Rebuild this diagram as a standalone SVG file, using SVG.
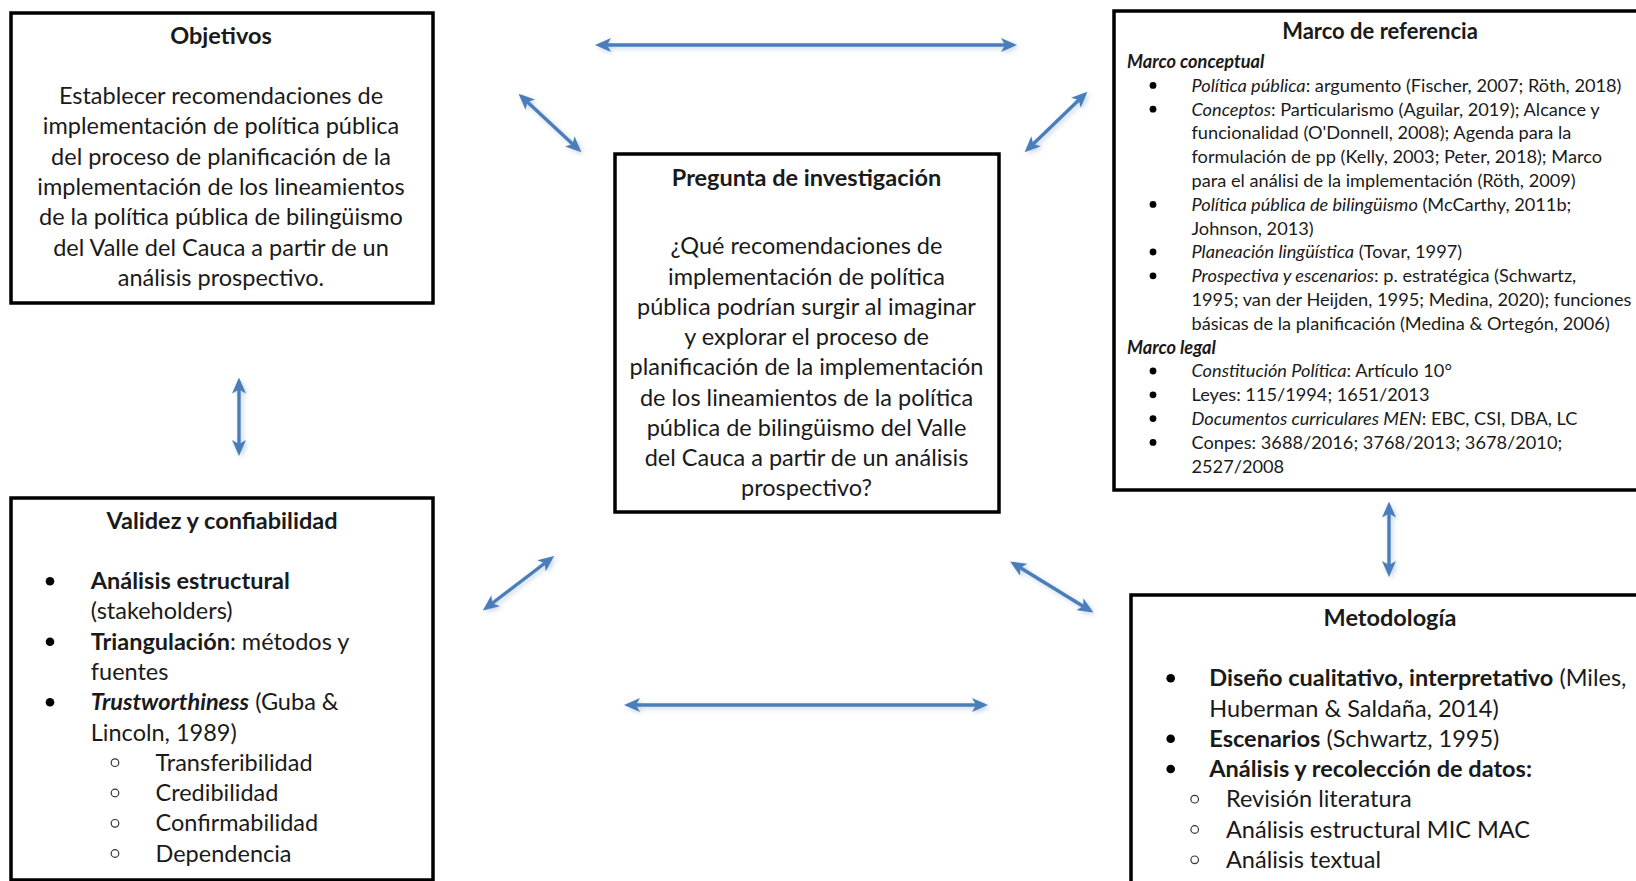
<svg xmlns="http://www.w3.org/2000/svg" width="1636" height="881" viewBox="0 0 1636 881">
  <defs>
    <style>
      text { font-family: Lato, "Liberation Sans", sans-serif; fill: #1a1a1a; }
      .box { fill: #ffffff; stroke: #000000; stroke-width: 3.5; }
      .title { font-weight: bold; font-size: 23.5px; text-anchor: middle; }
      .body { font-size: 23.5px; text-anchor: middle; }
      .list { font-size: 23.5px; }
      .ref { font-size: 18.2px; }
      .i { font-style: italic; }
      .b { font-weight: bold; }
      .dot { fill: #000000; }
      .ring { fill: none; stroke: #333333; stroke-width: 1.2; }
      .arrow { stroke: #4a7ebb; stroke-width: 3.4; fill: none; marker-start: url(#ah); marker-end: url(#ah); filter: url(#soft); }
    </style>
    <marker id="ah" viewBox="0 0 16 14" refX="12" refY="7" markerWidth="16" markerHeight="14" markerUnits="userSpaceOnUse" orient="auto-start-reverse">
      <path d="M0,0 L16,7 L0,14 L4,7 z" fill="#4a7ebb"/>
    </marker>
    <!-- soft bluish shadow under the arrows -->
    <filter id="soft" filterUnits="userSpaceOnUse" x="0" y="0" width="1636" height="881">
      <feGaussianBlur in="SourceAlpha" stdDeviation="2.5" result="b"/>
      <feOffset in="b" dx="1.5" dy="2" result="o"/>
      <feFlood flood-color="#7f9fc8" flood-opacity="0.45"/>
      <feComposite in2="o" operator="in" result="s"/>
      <feMerge><feMergeNode in="s"/><feMergeNode in="SourceGraphic"/></feMerge>
    </filter>
  </defs>

  <rect width="1636" height="881" fill="#ffffff"/>

  <!-- connectors -->
  <g id="connectors">
    <line class="arrow" x1="599" y1="45" x2="1013" y2="45"/>
    <line class="arrow" x1="521.5" y1="96.5" x2="578.5" y2="149.5"/>
    <line class="arrow" x1="1084.5" y1="94.5" x2="1027.5" y2="149.5"/>
    <line class="arrow" x1="239" y1="381.5" x2="239" y2="452"/>
    <line class="arrow" x1="1389" y1="505.5" x2="1389" y2="573"/>
    <line class="arrow" x1="551" y1="558.5" x2="486" y2="608"/>
    <line class="arrow" x1="1013.5" y1="563.5" x2="1090" y2="610.5"/>
    <line class="arrow" x1="628" y1="705" x2="984" y2="705"/>
  </g>

  <!-- Objetivos -->
  <g id="objetivos">
    <rect class="box" x="11" y="13" width="422" height="290"/>
    <text class="title" x="221" y="44">Objetivos</text>
    <text class="body" x="221" y="104">Establecer recomendaciones de</text>
    <text class="body" x="221" y="134.3">implementación de política pública</text>
    <text class="body" x="221" y="164.6">del proceso de planificación de la</text>
    <text class="body" x="221" y="194.9">implementación de los lineamientos</text>
    <text class="body" x="221" y="225.2">de la política pública de bilingüismo</text>
    <text class="body" x="221" y="255.5">del Valle del Cauca a partir de un</text>
    <text class="body" x="221" y="285.8">análisis prospectivo.</text>
  </g>

  <!-- Pregunta de investigación -->
  <g id="pregunta">
    <rect class="box" x="615" y="154" width="384" height="358"/>
    <text class="title" x="806.5" y="185.5">Pregunta de investigación</text>
    <text class="body" x="806.5" y="254.2">¿Qué recomendaciones de</text>
    <text class="body" x="806.5" y="284.5">implementación de política</text>
    <text class="body" x="806.5" y="314.8">pública podrían surgir al imaginar</text>
    <text class="body" x="806.5" y="345">y explorar el proceso de</text>
    <text class="body" x="806.5" y="375.3">planificación de la implementación</text>
    <text class="body" x="806.5" y="405.5">de los lineamientos de la política</text>
    <text class="body" x="806.5" y="435.8">pública de bilingüismo del Valle</text>
    <text class="body" x="806.5" y="466">del Cauca a partir de un análisis</text>
    <text class="body" x="806.5" y="496.3">prospectivo?</text>
  </g>

  <!-- Marco de referencia -->
  <g id="marco-referencia">
    <rect class="box" x="1114" y="11" width="540" height="479"/>
    <text class="title" x="1380" y="39" style="font-size:22px">Marco de referencia</text>
    <text class="ref b i" x="1127" y="68">Marco conceptual</text>
    <circle class="dot" cx="1153" cy="85.4" r="3.4"/>
    <text class="ref" x="1191.5" y="91.8"><tspan class="i">Política pública</tspan>: argumento (Fischer, 2007; Röth, 2018)</text>
    <circle class="dot" cx="1153" cy="109.2" r="3.4"/>
    <text class="ref" x="1191.5" y="115.6"><tspan class="i">Conceptos</tspan>: Particularismo (Aguilar, 2019); Alcance y</text>
    <text class="ref" x="1191.5" y="139.4">funcionalidad (O'Donnell, 2008); Agenda para la</text>
    <text class="ref" x="1191.5" y="163.2">formulación de pp (Kelly, 2003; Peter, 2018); Marco</text>
    <text class="ref" x="1191.5" y="187">para el análisi de la implementación (Röth, 2009)</text>
    <circle class="dot" cx="1153" cy="204.4" r="3.4"/>
    <text class="ref" x="1191.5" y="210.8"><tspan class="i">Política pública de bilingüismo</tspan> (McCarthy, 2011b;</text>
    <text class="ref" x="1191.5" y="234.6">Johnson, 2013)</text>
    <circle class="dot" cx="1153" cy="252" r="3.4"/>
    <text class="ref" x="1191.5" y="258.4"><tspan class="i">Planeación lingüística</tspan> (Tovar, 1997)</text>
    <circle class="dot" cx="1153" cy="275.8" r="3.4"/>
    <text class="ref" x="1191.5" y="282.2"><tspan class="i">Prospectiva y escenarios</tspan>: p. estratégica (Schwartz,</text>
    <text class="ref" x="1191.5" y="306">1995; van der Heijden, 1995; Medina, 2020); funciones</text>
    <text class="ref" x="1191.5" y="329.8">básicas de la planificación (Medina &amp; Ortegón, 2006)</text>
    <text class="ref b i" x="1127" y="353.6">Marco legal</text>
    <circle class="dot" cx="1153" cy="371" r="3.4"/>
    <text class="ref" x="1191.5" y="377.4"><tspan class="i">Constitución Política</tspan>: Artículo 10°</text>
    <circle class="dot" cx="1153" cy="394.8" r="3.4"/>
    <text class="ref" x="1191.5" y="401.2">Leyes: 115/1994; 1651/2013</text>
    <circle class="dot" cx="1153" cy="418.6" r="3.4"/>
    <text class="ref" x="1191.5" y="425"><tspan class="i">Documentos curriculares MEN</tspan>: EBC, CSI, DBA, LC</text>
    <circle class="dot" cx="1153" cy="442.4" r="3.4"/>
    <text class="ref" x="1191.5" y="448.8">Conpes: 3688/2016; 3768/2013; 3678/2010;</text>
    <text class="ref" x="1191.5" y="472.6">2527/2008</text>
  </g>

  <!-- Validez y confiabilidad -->
  <g id="validez">
    <rect class="box" x="11" y="498" width="422" height="382"/>
    <text class="title" x="222" y="529">Validez y confiabilidad</text>
    <circle class="dot" cx="50" cy="581.2" r="4.3"/>
    <text class="list" x="90.8" y="589.2"><tspan class="b">Análisis estructural</tspan></text>
    <text class="list" x="90.8" y="619.4">(stakeholders)</text>
    <circle class="dot" cx="50" cy="641.7" r="4.3"/>
    <text class="list" x="90.8" y="649.7"><tspan class="b">Triangulación</tspan>: métodos y</text>
    <text class="list" x="90.8" y="680">fuentes</text>
    <circle class="dot" cx="50" cy="702.2" r="4.3"/>
    <text class="list" x="90.8" y="710.2"><tspan class="b i">Trustworthiness</tspan> (Guba &amp;</text>
    <text class="list" x="90.8" y="740.5">Lincoln, 1989)</text>
    <circle class="ring" cx="115" cy="762.7" r="3.8"/>
    <text class="list" x="155.5" y="770.7">Transferibilidad</text>
    <circle class="ring" cx="115" cy="793" r="3.8"/>
    <text class="list" x="155.5" y="801">Credibilidad</text>
    <circle class="ring" cx="115" cy="823.3" r="3.8"/>
    <text class="list" x="155.5" y="831.3">Confirmabilidad</text>
    <circle class="ring" cx="115" cy="853.5" r="3.8"/>
    <text class="list" x="155.5" y="861.5">Dependencia</text>
  </g>

  <!-- Metodología -->
  <g id="metodologia">
    <rect class="box" x="1131" y="595" width="520" height="300"/>
    <text class="title" x="1390" y="626">Metodología</text>
    <circle class="dot" cx="1170.7" cy="678.2" r="4.3"/>
    <text class="list" x="1209.3" y="686.2"><tspan class="b">Diseño cualitativo, interpretativo</tspan> (Miles,</text>
    <text class="list" x="1209.3" y="716.5">Huberman &amp; Saldaña, 2014)</text>
    <circle class="dot" cx="1170.7" cy="738.7" r="4.3"/>
    <text class="list" x="1209.3" y="746.7"><tspan class="b">Escenarios</tspan> (Schwartz, 1995)</text>
    <circle class="dot" cx="1170.7" cy="769" r="4.3"/>
    <text class="list" x="1209.3" y="777"><tspan class="b">Análisis y recolección de datos:</tspan></text>
    <circle class="ring" cx="1194.7" cy="799.2" r="3.8"/>
    <text class="list" x="1226" y="807.2">Revisión literatura</text>
    <circle class="ring" cx="1194.7" cy="829.5" r="3.8"/>
    <text class="list" x="1226" y="837.5">Análisis estructural MIC MAC</text>
    <circle class="ring" cx="1194.7" cy="859.8" r="3.8"/>
    <text class="list" x="1226" y="867.8">Análisis textual</text>
  </g>
</svg>
